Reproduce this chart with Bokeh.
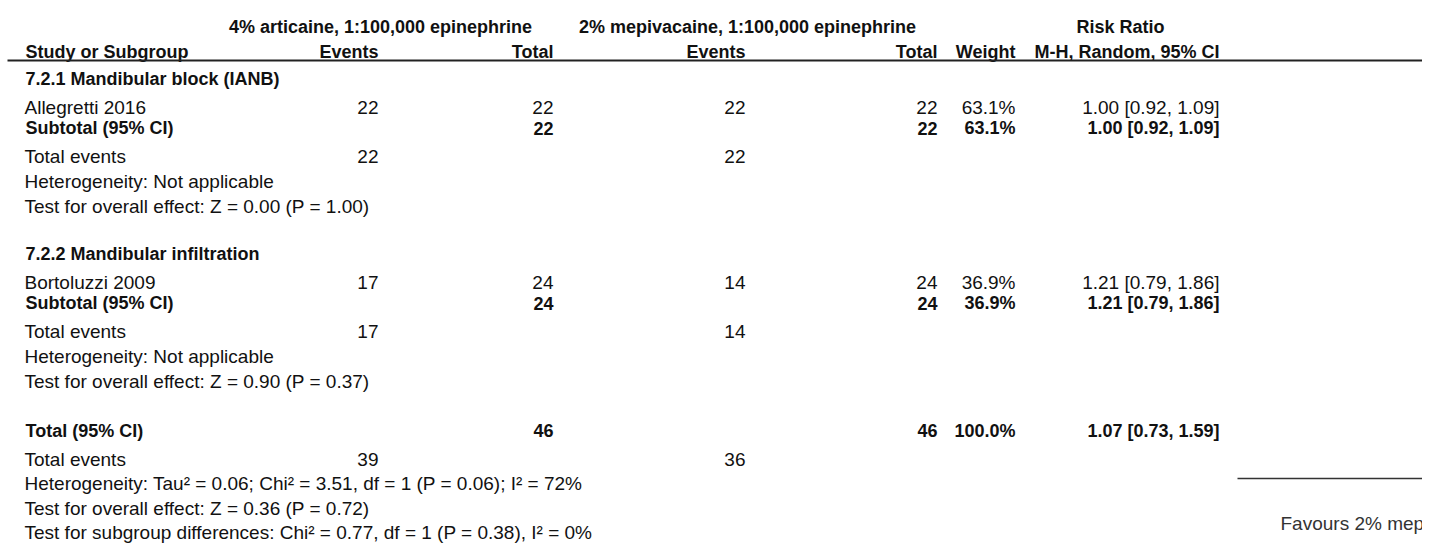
from bokeh.plotting import figure
from bokeh.models import Range1d, ColumnDataSource
from bokeh.core.properties import value
from bokeh.embed import file_html
from bokeh.resources import INLINE

# ---------------- data ----------------
group1_label = "4% articaine, 1:100,000 epinephrine"
group2_label = "2% mepivacaine, 1:100,000 epinephrine"
effect_label = "Risk Ratio"
effect_method = "M-H, Random, 95% CI"
col_headers = ["Study or Subgroup", "Events", "Total", "Events", "Total", "Weight"]

subgroups = ["7.2.1 Mandibular block (IANB)", "7.2.2 Mandibular infiltration"]
studies = ["Allegretti 2016", "Bortoluzzi 2009"]
events_art = [22, 17]
total_art = [22, 24]
events_mep = [22, 14]
total_mep = [22, 24]
weights = [63.1, 36.9]
rr = [1.00, 1.21]
rr_low = [0.92, 0.79]
rr_high = [1.09, 1.86]
sub_heterogeneity = ["Not applicable", "Not applicable"]
sub_z = [0.00, 0.90]
sub_p = [1.00, 0.37]

overall_total_art = 46
overall_total_mep = 46
overall_events_art = 39
overall_events_mep = 36
overall_weight = 100.0
overall_rr = [1.07, 0.73, 1.59]
overall_het = [0.06, 3.51, 1, 0.06, 72]      # Tau2, Chi2, df, P, I2
overall_test = [0.36, 0.72]                  # Z, P
subgroup_diff = [0.77, 1, 0.38, 0]           # Chi2, df, P, I2
favours_left = "Favours 2% mepivacaine"

# ---------------- layout ----------------
W, H = 1422, 544
FONT = value("Liberation Sans")
FS_N, FS_B = 19, 18
COLOR = "#111111"

p = figure(width=W, height=H, output_backend="svg", toolbar_location=None,
           x_range=Range1d(0, W), y_range=Range1d(H, 0),
           min_border=0, outline_line_color=None)
p.axis.visible = False
p.grid.visible = False
p.background_fill_color = "white"
p.border_fill_color = "white"

X_LEFT = 24
X_EV1, X_TOT1, X_EV2, X_TOT2, X_WT, X_CI = 378, 553, 745, 937, 1015, 1219
X_G1, X_G2, X_RR = 380, 747, 1120

items = {}


def put(x, ycenter, txt, align="left", style="normal"):
    fs = FS_B if style == "bold" else FS_N
    items.setdefault((align, style), []).append((x, ycenter + 0.358 * fs, txt))


def ci(v, lo, hi):
    return f"{v:.2f} [{lo:.2f}, {hi:.2f}]"


# headers
put(X_G1, 20, group1_label, "center", "bold")
put(X_G2, 20, group2_label, "center", "bold")
put(X_RR, 20, effect_label, "center", "bold")
put(X_LEFT + 1, 45, col_headers[0], "left", "bold")
for x, t in zip([X_EV1, X_TOT1, X_EV2, X_TOT2, X_WT], col_headers[1:]):
    put(x, 45, t, "right", "bold")
put(X_CI, 45, effect_method, "right", "bold")

block_tops = [72, 247]
for i in range(len(subgroups)):
    y0 = block_tops[i]
    put(X_LEFT + 1, y0, subgroups[i], "left", "bold")
    ys = y0 + 28
    put(X_LEFT, ys, studies[i])
    put(X_EV1, ys, str(events_art[i]), "right")
    put(X_TOT1, ys, str(total_art[i]), "right")
    put(X_EV2, ys, str(events_mep[i]), "right")
    put(X_TOT2, ys, str(total_mep[i]), "right")
    put(X_WT, ys, f"{weights[i]:.1f}%", "right")
    put(X_CI, ys, ci(rr[i], rr_low[i], rr_high[i]), "right")
    yb = ys + 21.5
    put(X_LEFT + 1, yb, "Subtotal (95% CI)", "left", "bold")
    put(X_TOT1, yb, str(total_art[i]), "right", "bold")
    put(X_TOT2, yb, str(total_mep[i]), "right", "bold")
    put(X_WT, yb, f"{weights[i]:.1f}%", "right", "bold")
    put(X_CI, yb, ci(rr[i], rr_low[i], rr_high[i]), "right", "bold")
    yt = yb + 28
    put(X_LEFT, yt, "Total events")
    put(X_EV1, yt, str(events_art[i]), "right")
    put(X_EV2, yt, str(events_mep[i]), "right")
    put(X_LEFT, yt + 24.7, f"Heterogeneity: {sub_heterogeneity[i]}")
    put(X_LEFT, yt + 49.4, f"Test for overall effect: Z = {sub_z[i]:.2f} (P = {sub_p[i]:.2f})")

yT = 424
put(X_LEFT + 1, yT, "Total (95% CI)", "left", "bold")
put(X_TOT1, yT, str(overall_total_art), "right", "bold")
put(X_TOT2, yT, str(overall_total_mep), "right", "bold")
put(X_WT, yT, f"{overall_weight:.1f}%", "right", "bold")
put(X_CI, yT, ci(*overall_rr), "right", "bold")
put(X_LEFT, yT + 28, "Total events")
put(X_EV1, yT + 28, str(overall_events_art), "right")
put(X_EV2, yT + 28, str(overall_events_mep), "right")
tau2, chi2, df, hp, i2 = overall_het
put(X_LEFT, yT + 52.5, f"Heterogeneity: Tau\u00b2 = {tau2:.2f}; Chi\u00b2 = {chi2:.2f}, df = {df} (P = {hp:.2f}); I\u00b2 = {i2}%")
put(X_LEFT, yT + 77, f"Test for overall effect: Z = {overall_test[0]:.2f} (P = {overall_test[1]:.2f})")
sc, sdf, sp, si2 = subgroup_diff
put(X_LEFT, yT + 101.5, f"Test for subgroup differences: Chi\u00b2 = {sc:.2f}, df = {sdf} (P = {sp:.2f}), I\u00b2 = {si2}%")

for (align, style), rows in items.items():
    src = ColumnDataSource(dict(x=[r[0] for r in rows], y=[r[1] for r in rows],
                                t=[r[2] for r in rows]))
    p.text(x="x", y="y", text="t", source=src, text_align=align,
           text_baseline="alphabetic", text_font=FONT,
           text_font_size=f"{FS_B if style == 'bold' else FS_N}px",
           text_font_style=style, text_color=COLOR)

# header rule
p.segment(x0=[7], y0=[60], x1=[W], y1=[60], line_color="#222222", line_width=2)
# forest axis (cut off at the right edge)
p.segment(x0=[1237], y0=[478], x1=[W], y1=[478], line_color="#333333", line_width=1.5)
p.text(x=[1280], y=[516 + 0.358 * FS_N], text=[favours_left], text_align="left",
       text_baseline="alphabetic", text_font=FONT, text_font_size=f"{FS_N}px",
       text_color="#333333")

open("out.html", "w").write(file_html(p, INLINE))
